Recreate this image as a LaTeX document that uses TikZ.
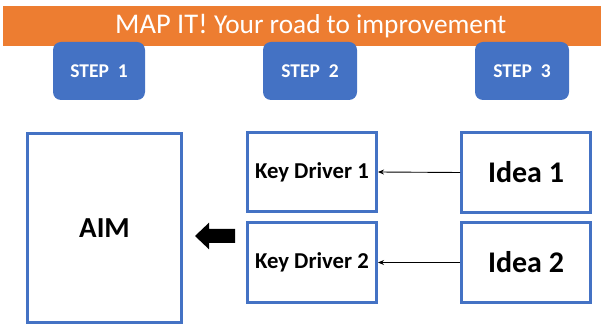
\documentclass[tikz,border=0pt]{standalone}
\usepackage{fontspec}
\setmainfont{Carlito}
\usetikzlibrary{arrows.meta}
\definecolor{barorange}{HTML}{ED7D31}
\definecolor{stepblue}{HTML}{4472C4}
\tikzset{
  stepbox/.style={fill=stepblue, rounded corners=8pt, minimum width=#1, minimum height=58pt, inner sep=0pt, text=white, font=\fontsize{19.5}{21}\selectfont\bfseries},
  outlinebox/.style={draw=stepblue, line width=3pt, fill=white, inner sep=0pt, align=center},
  connector/.style={-{Stealth[length=6pt,width=5pt]}, line width=0.9pt, black}
}
\begin{document}
\begin{tikzpicture}[x=1pt,y=-1pt]
\useasboundingbox (0,0) rectangle (604,328);
% title bar
\fill[barorange] (3,6) rectangle (601,45.7);
\node[anchor=base west, inner sep=0pt, text=white] (title) at (115,33.3)
  {\fontsize{28.5}{30}\selectfont MAP IT!\ \fontsize{27.3}{28}\selectfont Your road to improvement};
% steps
\node[stepbox=92pt] (s1) at (99,71) {\raisebox{-2pt}{STEP\ \ 1}};
\node[stepbox=94pt] (s2) at (310,71) {\raisebox{-2pt}{STEP\ \ 2}};
\node[stepbox=94pt] (s3) at (522,71) {\raisebox{-2pt}{STEP\ \ 3}};
% boxes
\node[outlinebox, minimum width=154pt, minimum height=189pt, font=\fontsize{29}{31}\selectfont\bfseries] (aim) at (104.5,228) {AIM};
\node[outlinebox, minimum width=129pt, minimum height=79pt, font=\fontsize{22.7}{24}\selectfont\bfseries] (kd1) at (312,172) {Key Driver 1};
\node[outlinebox, minimum width=129pt, minimum height=80pt, font=\fontsize{22.7}{24}\selectfont\bfseries] (kd2) at (312,262.5) {Key Driver 2};
\node[outlinebox, minimum width=129pt, minimum height=80pt, font=\fontsize{30}{32}\selectfont\bfseries] (i1) at (526,172.5) {Idea 1};
\node[outlinebox, minimum width=129pt, minimum height=80pt, font=\fontsize{30}{32}\selectfont\bfseries] (i2) at (526,262.5) {Idea 2};
% connectors
\draw[connector] (i1.west) -- (kd1.east);
\draw[connector] (i2.west) -- (kd2.east);
% big arrow
\coordinate (bigtip) at (195,236);
\fill[black] (bigtip) -- ++(14,-13.3) -- ++(0,6.3) -- ++(26,0) -- ++(0,14) -- ++(-26,0) -- ++(0,6.3) -- cycle;
\end{tikzpicture}
\end{document}
